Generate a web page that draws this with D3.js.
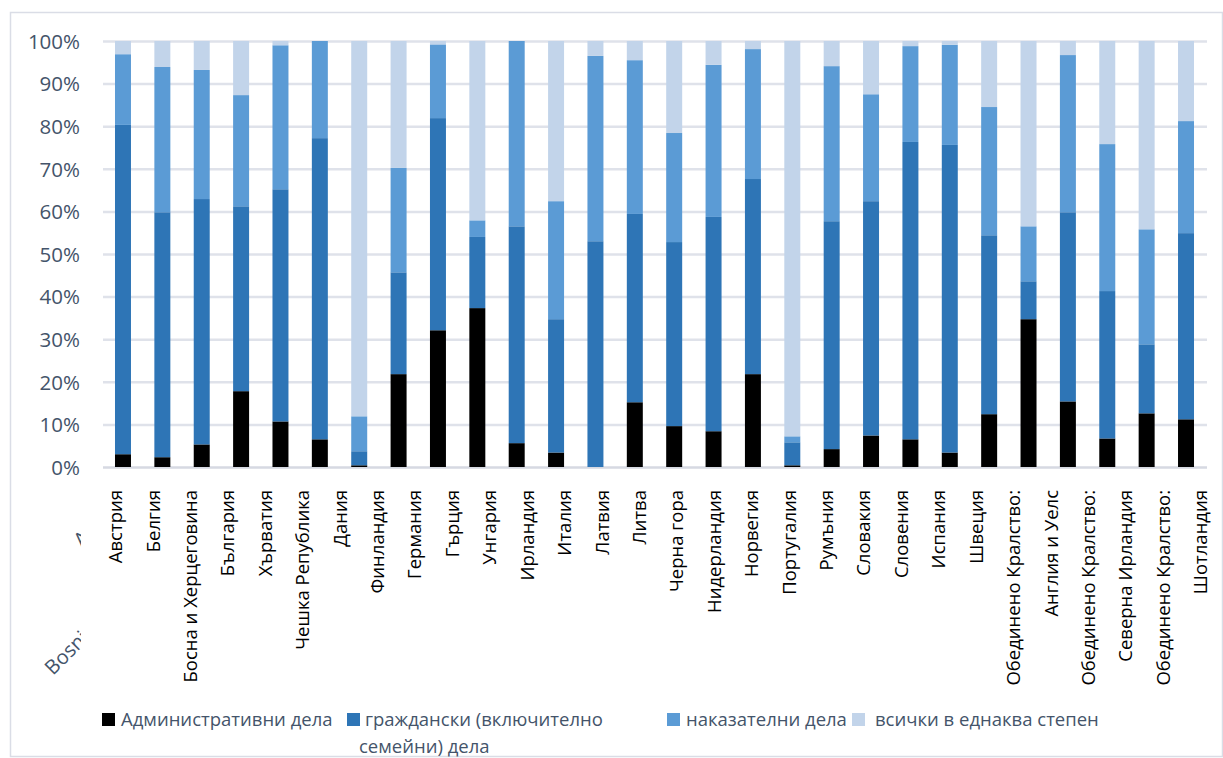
<!DOCTYPE html>
<html>
<head>
<meta charset="utf-8">
<script src="https://cdn.jsdelivr.net/npm/d3@7"></script>
<style>
  html, body { margin: 0; padding: 0; background: #ffffff; }
  svg { display: block; }
</style>
</head>
<body>
<svg id="chart" width="1223" height="758"></svg>
<script>
// ---- data ----
// 28 bars (the picture's bars are not individually aligned with the label overlay)
const categories = ["1","2","3","4","5","6","7","8","9","10","11","12","13","14",
  "15","16","17","18","19","20","21","22","23","24","25","26","27","28"];
const seriesNames = ["Административни дела", "граждански (включително семейни) дела", "наказателни дела", "всички в еднаква степен"];
const administrative = [3.0, 2.3, 5.3, 17.8, 10.7, 6.5, 0.4, 21.8, 32.1, 37.3, 5.6, 3.4, 0.0, 15.2,
  9.6, 8.4, 21.8, 0.4, 4.2, 7.4, 6.5, 3.4, 12.4, 34.7, 15.4, 6.7, 12.6, 11.2];
const civil = [77.3, 57.5, 57.6, 43.4, 54.5, 70.7, 3.3, 23.9, 49.8, 16.7, 50.9, 31.3, 53.0, 44.2,
  43.2, 50.3, 45.8, 5.4, 53.5, 55.0, 69.8, 72.2, 42.0, 8.9, 44.4, 34.6, 16.2, 43.7];
const criminal = [16.6, 34.1, 30.3, 26.1, 33.8, 22.8, 8.2, 24.5, 17.3, 3.9, 43.5, 27.7, 43.5, 36.1,
  25.6, 35.7, 30.5, 1.4, 36.4, 25.1, 22.5, 23.5, 30.1, 12.9, 36.9, 34.5, 27.0, 26.3];
const allEqual = [3.1, 6.1, 6.8, 12.7, 1.0, 0.0, 88.1, 29.8, 0.8, 42.1, 0.0, 37.6, 3.5, 4.5,
  21.6, 5.6, 1.9, 92.8, 5.9, 12.5, 1.2, 0.9, 15.5, 43.5, 3.3, 24.2, 44.2, 18.8];
// category label overlay (text lines as shown under the axis)
const tickLabels = ["Австрия", "Белгия", "Босна и Херцеговина", "България", "Хърватия",
  "Чешка Република", "Дания", "Финландия", "Германия", "Гърция", "Унгария", "Ирландия",
  "Италия", "Латвия", "Литва", "Черна гора", "Нидерландия", "Норвегия", "Португалия",
  "Румъния", "Словакия", "Словения", "Испания", "Швеция", "Обединено Кралство:",
  "Англия и Уелс", "Обединено Кралство:", "Северна Ирландия", "Обединено Кралство:", "Шотландия"];
const yTicks = [0, 0.1, 0.2, 0.3, 0.4, 0.5, 0.6, 0.7, 0.8, 0.9, 1.0];

// ---- styles ----
const colors = ["#000000", "#2e75b6", "#5b9bd5", "#c2d4ea"];
const textColor = "#44546a";
const gridColor = "#dfe2ea";
const font = "'Open Sans', 'Noto Sans', sans-serif";

const svg = d3.select("#chart");

// outer frame
svg.append("rect").attr("x", 10.5).attr("y", 12.5).attr("width", 1212).attr("height", 744)
  .attr("fill", "#fff").attr("stroke", "#dadde6").attr("stroke-width", 1.5);

const x = d3.scaleBand().domain(categories).range([103.3, 1205.7])
  .paddingInner(0.594).paddingOuter(0.297);
const y = d3.scaleLinear().domain([0, 1]).range([467, 41]);

// gridlines + y tick labels
const yAxis = d3.axisLeft(y).tickValues(yTicks).tickFormat(d3.format(".0%"))
  .tickSize(-(1207 - 103)).tickPadding(23);
const gy = svg.append("g").attr("transform", "translate(103,0)").call(yAxis);
gy.select(".domain").remove();
gy.selectAll(".tick line").attr("stroke", gridColor).attr("stroke-width", 2.5);
gy.selectAll(".tick text").attr("fill", textColor).attr("font-family", font)
  .attr("font-size", 20.5).attr("dy", "0.36em");
gy.selectAll(".tick").filter(d => d === 0).select("line").attr("stroke", "#d6d9e2");

// stacked data
const rows = categories.map((c, i) => ({
  cat: c,
  s0: administrative[i], s1: civil[i], s2: criminal[i], s3: allEqual[i]
}));
const keys = ["s0", "s1", "s2", "s3"];
const stack = d3.stack().keys(keys).offset(d3.stackOffsetExpand);
const layers = stack(rows);

svg.append("g").selectAll("g").data(layers).join("g")
  .attr("fill", (d, i) => colors[i])
  .selectAll("rect").data(d => d).join("rect")
  .attr("x", d => x(d.data.cat))
  .attr("width", x.bandwidth())
  .attr("y", d => y(d[1]))
  .attr("height", d => Math.max(0, y(d[0]) - y(d[1])));

// category label overlay via an axis on a point scale
const xl = d3.scalePoint().domain(d3.range(tickLabels.length)).range([115, 1200]);
const xAxis = d3.axisBottom(xl).tickSize(0).tickFormat(i => tickLabels[i]);
const gx = svg.append("g").attr("transform", "translate(0,490)").call(xAxis);
gx.select(".domain").remove();
gx.selectAll(".tick text")
  .attr("font-family", font).attr("font-size", 18.5).attr("fill", "#000")
  .attr("text-anchor", "end")
  .attr("transform", "rotate(-90)")
  .attr("x", 0).attr("y", 0).attr("dy", "0.36em");

// stray remnant of the hidden original labels
const defs = svg.append("defs");
defs.append("clipPath").attr("id", "strayClip")
  .append("rect").attr("x", 0).attr("y", 520).attr("width", 81).attr("height", 180);
const stray = svg.append("g").attr("clip-path", "url(#strayClip)");
stray.append("text")
  .attr("transform", "translate(53,676) rotate(-45)")
  .attr("font-family", font).attr("font-size", 20).attr("fill", textColor)
  .text("Bosnia and Herzegovina");
stray.append("text")
  .attr("transform", "translate(82,548) rotate(-45)")
  .attr("font-family", font).attr("font-size", 20).attr("fill", textColor)
  .text("Austria");

// legend
const legendItems = [
  { lines: ["Административни дела"], sx: 102, tx: 121 },
  { lines: ["граждански (включително", "семейни) дела"], sx: 347, tx: 365, lx2: 359 },
  { lines: ["наказателни дела"], sx: 667, tx: 686 },
  { lines: ["всички в еднаква степен"], sx: 852, tx: 875 }
];
const lg = svg.append("g");
legendItems.forEach((item, i) => {
  lg.append("rect").attr("x", item.sx).attr("y", 713).attr("width", 13).attr("height", 13)
    .attr("fill", colors[i]);
  item.lines.forEach((ln, j) => {
    lg.append("text").attr("x", j === 0 ? item.tx : item.lx2).attr("y", 726 + j * 27)
      .attr("font-family", font).attr("font-size", 18.5).attr("fill", textColor)
      .text(ln);
  });
});
</script>
</body>
</html>
